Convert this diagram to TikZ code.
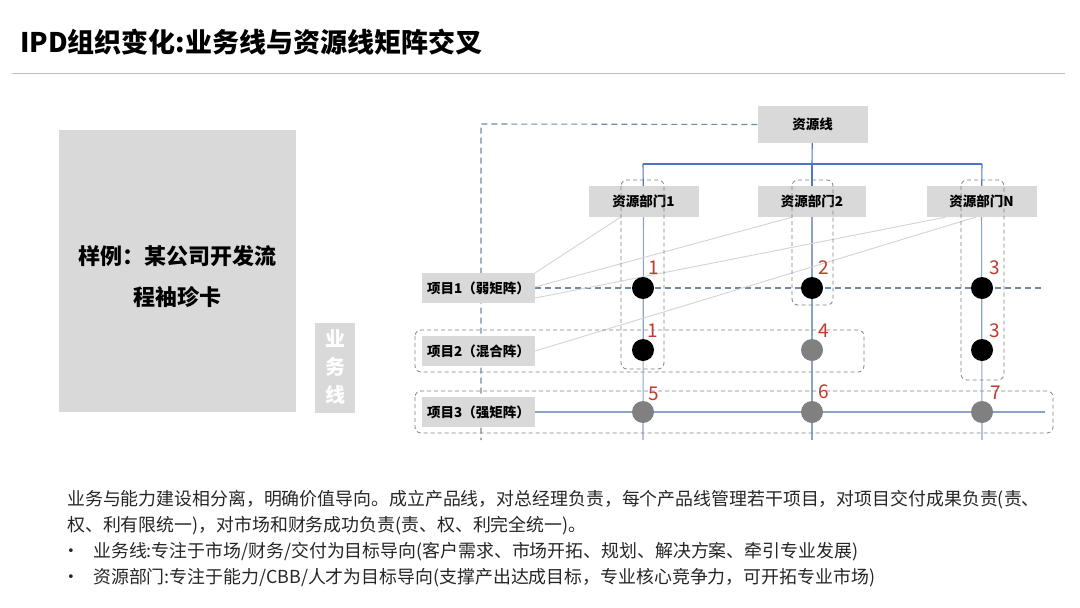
\documentclass[tikz,border=0pt]{standalone}
\usepackage{fontspec}
\setmainfont{Noto Sans CJK SC}
\newfontfamily\bulletfont{DejaVu Sans}
\usepackage{xcolor}
\usetikzlibrary{positioning, backgrounds}

\definecolor{boxgray}{HTML}{D9D9D9}
\definecolor{treeblue}{HTML}{4F74C4}
\definecolor{colblue}{HTML}{8AA3C6}
\definecolor{dashblue}{HTML}{7288A3}
\definecolor{numred}{HTML}{C0392B}
\definecolor{dotgray}{HTML}{808080}
\definecolor{thingray}{HTML}{D3D3D3}

\begin{document}
\begin{tikzpicture}[
    x=1pt, y=-1pt,
    box/.style={rectangle, fill=boxgray, inner sep=0pt, font=\fontsize{13.5}{16}\selectfont\bfseries},
    dept/.style={box, minimum width=110pt, minimum height=31pt},
    proj/.style={box, minimum width=113pt, minimum height=30pt},
    dot/.style={circle, fill=black, minimum size=22pt, inner sep=0pt},
    greydot/.style={dot, fill=dotgray},
    num/.style={font=\fontsize{19}{19}\selectfont, text=numred, inner sep=0pt},
    tree/.style={treeblue, line width=1.1pt},
    col/.style={colblue, line width=1.1pt},
    link/.style={thingray, line width=0.9pt},
    resdash/.style={dashblue, line width=1.1pt, dash pattern=on 6pt off 4pt},
    group/.style={gray, line width=0.8pt, dash pattern=on 4pt off 3pt, rounded corners=6pt},
    body/.style={anchor=west, inner sep=0pt, font=\fontsize{17.9}{20}\selectfont, text=black!85},
    bullet/.style={body, font=\bulletfont\fontsize{13}{20}\selectfont}
]
\useasboundingbox (0,0) rectangle (1080,608);

% title
\node[anchor=west, inner sep=0pt, font=\fontsize{27}{30}\selectfont\bfseries] (title) at (20,42) {IPD组织变化:业务线与资源线矩阵交叉};
\draw[gray!50, line width=1pt] (12,73) -- (1065,73);

% left side
\node[rectangle, fill=boxgray, minimum width=237pt, minimum height=282pt, inner sep=0pt] (sample) at (177.5,271) {};
\node[align=center, font=\fontsize{22}{41}\selectfont\bfseries] (sampletxt) at (177.5,276.5) {样例：某公司开发流\\程袖珍卡};
\node[rectangle, fill=boxgray, minimum width=40pt, minimum height=90pt, inner sep=0pt, align=center,
      text=white, font=\fontsize{20}{28}\selectfont\bfseries] (bizline) at (335,367.5) {业\\务\\线};

% resource line and departments
\node[box, minimum width=110pt, minimum height=37pt] (res) at (812.5,124.5) {资源线};
\node[dept] (d1) at (643.5,201.5) {资源部门1};
\node[dept, minimum width=108pt] (d2) at (812,201.5) {资源部门2};
\node[dept] (dN) at (981.5,201.5) {资源部门N};

% projects
\node[proj] (p1) at (478.5,288) {项目1（弱矩阵）};
\node[proj] (p2) at (478.5,351) {项目2（混合阵）};
\node[proj] (p3) at (478.5,412) {项目3（强矩阵）};

% crossing points
\node[dot] (c11) at (643,288) {};
\node[dot] (c12) at (812,288) {};
\node[dot] (c13) at (982,288) {};
\node[dot] (c21) at (643,350) {};
\node[greydot] (c22) at (812,350) {};
\node[dot] (c23) at (982,350) {};
\node[greydot] (c31) at (643,412) {};
\node[greydot] (c32) at (812,412) {};
\node[greydot] (c33) at (982,412) {};

% numbers
\node[num] at ([xshift=11pt, yshift=20pt]c11) {1};
\node[num] at ([xshift=12pt, yshift=20pt]c12) {2};
\node[num] at ([xshift=13pt, yshift=20pt]c13) {3};
\node[num] at ([xshift=10pt, yshift=19pt]c21) {1};
\node[num] at ([xshift=12pt, yshift=19pt]c22) {4};
\node[num] at ([xshift=13pt, yshift=19pt]c23) {3};
\node[num] at ([xshift=11pt, yshift=18pt]c31) {5};
\node[num] at ([xshift=12pt, yshift=20pt]c32) {6};
\node[num] at ([xshift=14pt, yshift=19pt]c33) {7};

\coordinate (tm) at (812,164);
\coordinate (t1) at (643,164);
\coordinate (tN) at (982,164);
\coordinate (b1) at (643,440);
\coordinate (b2) at (812,440);
\coordinate (bN) at (982,440);
\coordinate (bend) at (481,124);
\coordinate (bizend) at (481,440);
\coordinate (r1end) at (1045,288);
\coordinate (r3end) at (1045,412);

\begin{pgfonlayer}{background}
% tree
\draw[tree] (res) -- (tm);
\draw[tree] (t1) -- (tN);
\draw[tree] (t1) -- (d1);
\draw[tree] (tm) -- (d2);
\draw[tree] (tN) -- (dN);
% columns
\draw[col] (d1) -- (b1);
\draw[col] (d2) -- (b2);
\draw[col] (dN) -- (bN);
% rows
\draw[resdash] (res.west) -- (bend) -- (bizend);
\draw[resdash] (p1.east) -- (r1end);
\draw[col] (p3.east) -- (r3end);
% thin links
\draw[link] (p1.north east) -- ([xshift=-23pt]d1.south);
\draw[link] ([yshift=1pt]p1.east) -- ([xshift=-20pt]d2.south);
\draw[link] (p1.-10) -- ([xshift=-36pt]dN.south);
\draw[link] (p2.east) -- ([xshift=-6pt]dN.south);
\end{pgfonlayer}

% groups
\draw[group] (621,180) rectangle (664,369);
\draw[group] (792,180) rectangle (833,305);
\draw[group] (961,180) rectangle (1004,380);
\draw[group] (415,330) rectangle (864,372);
\draw[group] (415,391) rectangle (1053,433);

% text below
\node[body] (t1a) at (67,500) {业务与能力建设相分离，明确价值导向。成立产品线，对总经理负责，每个产品线管理若干项目，对项目交付成果负责(责、};
\node[body] (t1b) at (67,526) {权、利有限统一)，对市场和财务成功负责(责、权、利完全统一)。};
\node[bullet] (bul1) at (67,552) {•};
\node[body] (t2) at (93,552) {业务线:专注于市场/财务/交付为目标导向(客户需求、市场开拓、规划、解决方案、牵引专业发展)};
\node[bullet] (bul2) at (67,578) {•};
\node[body] (t3) at (93,578) {资源部门:专注于能力/CBB/人才为目标导向(支撑产出达成目标，专业核心竞争力，可开拓专业市场)};
\end{tikzpicture}
\end{document}
